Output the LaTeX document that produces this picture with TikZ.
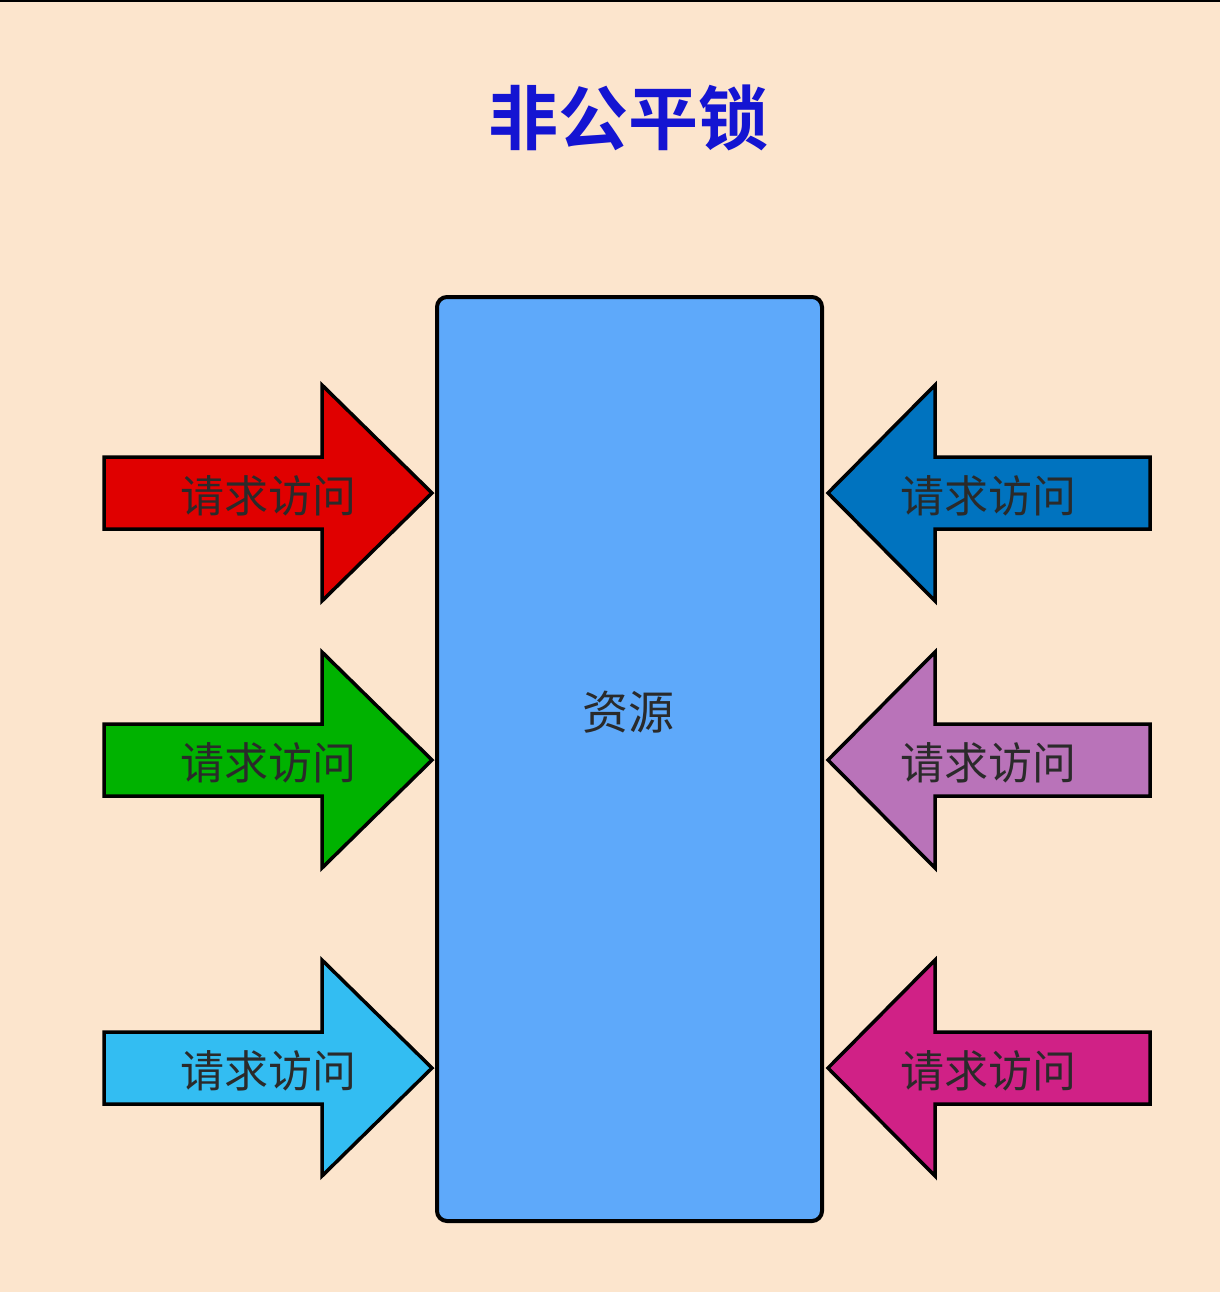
\documentclass[tikz,border=0pt]{standalone}
\usepackage{fontspec}
\newfontfamily\cjk{Noto Sans CJK SC}
\newfontfamily\cjkbold{Noto Sans CJK SC Bold}
\definecolor{bgpeach}{HTML}{FCE5CD}
\definecolor{resblue}{HTML}{5EA9FA}
\definecolor{titleblue}{HTML}{1414D2}
\definecolor{txtgray}{HTML}{2A2A2A}
\begin{document}
\begin{tikzpicture}[x=1pt,y=-1pt]
        \tikzset{label/.style={font=\cjk\fontsize{44}{44}\selectfont,text=txtgray,inner sep=0pt}}
        \fill[bgpeach] (0,0) rectangle (1220,1292);
        \useasboundingbox (0,0) rectangle (1220,1292);
        \draw[black,line width=3pt] (0,1) -- (1220,1);

        \node[font=\cjkbold\fontsize{70}{70}\selectfont,text=titleblue] (title) at (628,118) {非公平锁};

        \draw[black,line width=4pt,fill=resblue,rounded corners=10pt] (437,297) rectangle (822,1221);
        \node[label,font=\cjk\fontsize{46}{46}\selectfont] (res) at (628,712) {资源};

        % left arrows
        \foreach \y/\c/\n in {493/red!88!black/la, 760/green!70!black/lb, 1068/cyan!80!white/lc}{
            \draw[black,line width=3.5pt,line join=miter,fill=\c]
                (104,\y-36) -- (322,\y-36) -- (322,\y-108) -- (432,\y)
                -- (322,\y+108) -- (322,\y+36) -- (104,\y+36) -- cycle;
            \node[label] (\n) at (268,\y+3) {请求访问};
        }
        % right arrows
        \foreach \y/\c/\n in {493/{blue!40!cyan!75!black}/ra, 760/violet!55!white/rb, 1068/magenta!85!black/rc}{
            \draw[black,line width=3.5pt,line join=miter,fill=\c]
                (1150,\y-36) -- (935,\y-36) -- (935,\y-108) -- (828,\y)
                -- (935,\y+108) -- (935,\y+36) -- (1150,\y+36) -- cycle;
            \node[label] (\n) at (988,\y+3) {请求访问};
        }
    \end{tikzpicture}
\end{document}
